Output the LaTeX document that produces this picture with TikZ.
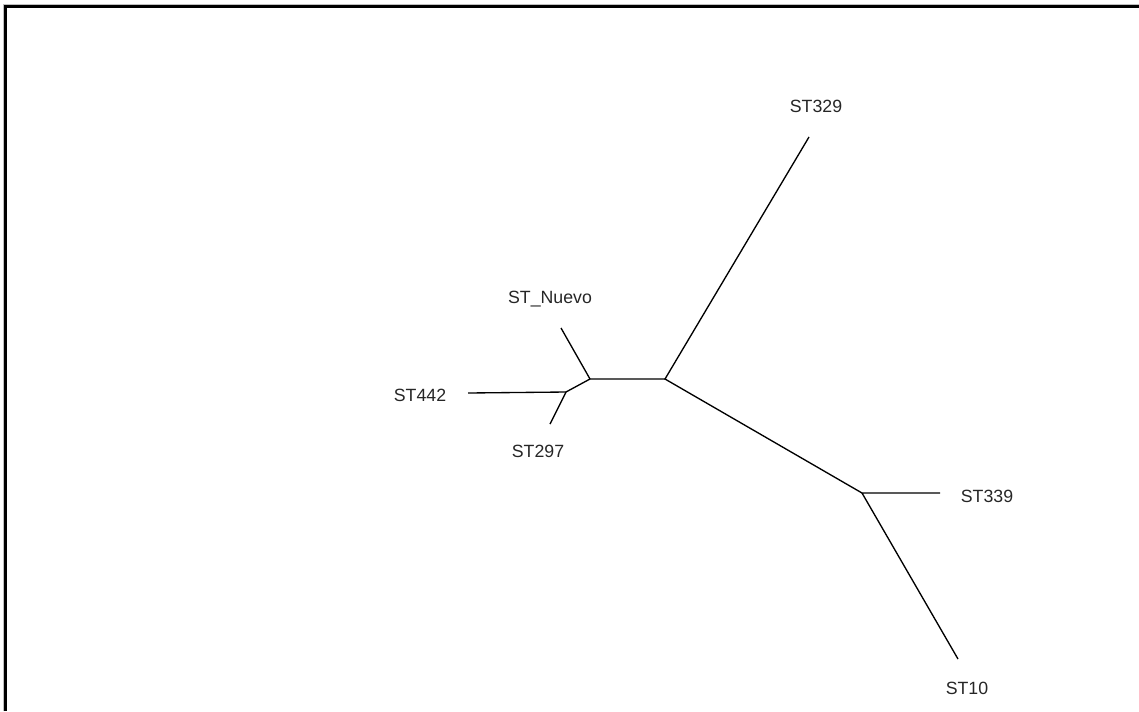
\documentclass[tikz,border=0pt]{standalone}
\usepackage{fontspec}
\setmainfont{Liberation Sans}

\begin{document}
\begin{tikzpicture}[x=0.75pt,y=-0.75pt,
  branch/.style={line width=1pt},
  taxon/.style={font=\fontsize{13.3}{16}\selectfont, text=black!85}]
\useasboundingbox (0,0) rectangle (1139,711);
% frame
\draw[gray!50, line width=0.6pt] (3,711) -- (3,4) -- (1139,4);
\draw[line width=2.4pt] (5.6,711) -- (5.6,6.8) -- (1139,6.8);
% inner nodes
\coordinate (A) at (566,392);
\coordinate (B) at (590,379);
\coordinate (C) at (665,379);
\coordinate (D) at (862,493);
% leaves
\coordinate (Nuevo) at (561,328);
\coordinate (S442) at (468,393);
\coordinate (S297) at (550,424);
\coordinate (S329) at (809,137);
\coordinate (S339) at (940,493);
\coordinate (S10) at (958,659);
% branches
\draw[branch] (S442) -- (A);
\draw[branch] (S297) -- (A) -- (B);
\draw[branch] (Nuevo) -- (B) -- (C);
\draw[branch] (S329) -- (C) -- (D);
\draw[branch] (S339) -- (D) -- (S10);
% labels
\node[taxon] (lNuevo) at (550,299) {ST\_Nuevo};
\node[taxon] (l442) at (420,395) {ST442};
\node[taxon] (l297) at (538,451) {ST297};
\node[taxon] (l329) at (816,106) {ST329};
\node[taxon] (l339) at (987,496) {ST339};
\node[taxon] (l10) at (967,688) {ST10};
\end{tikzpicture}
\end{document}
